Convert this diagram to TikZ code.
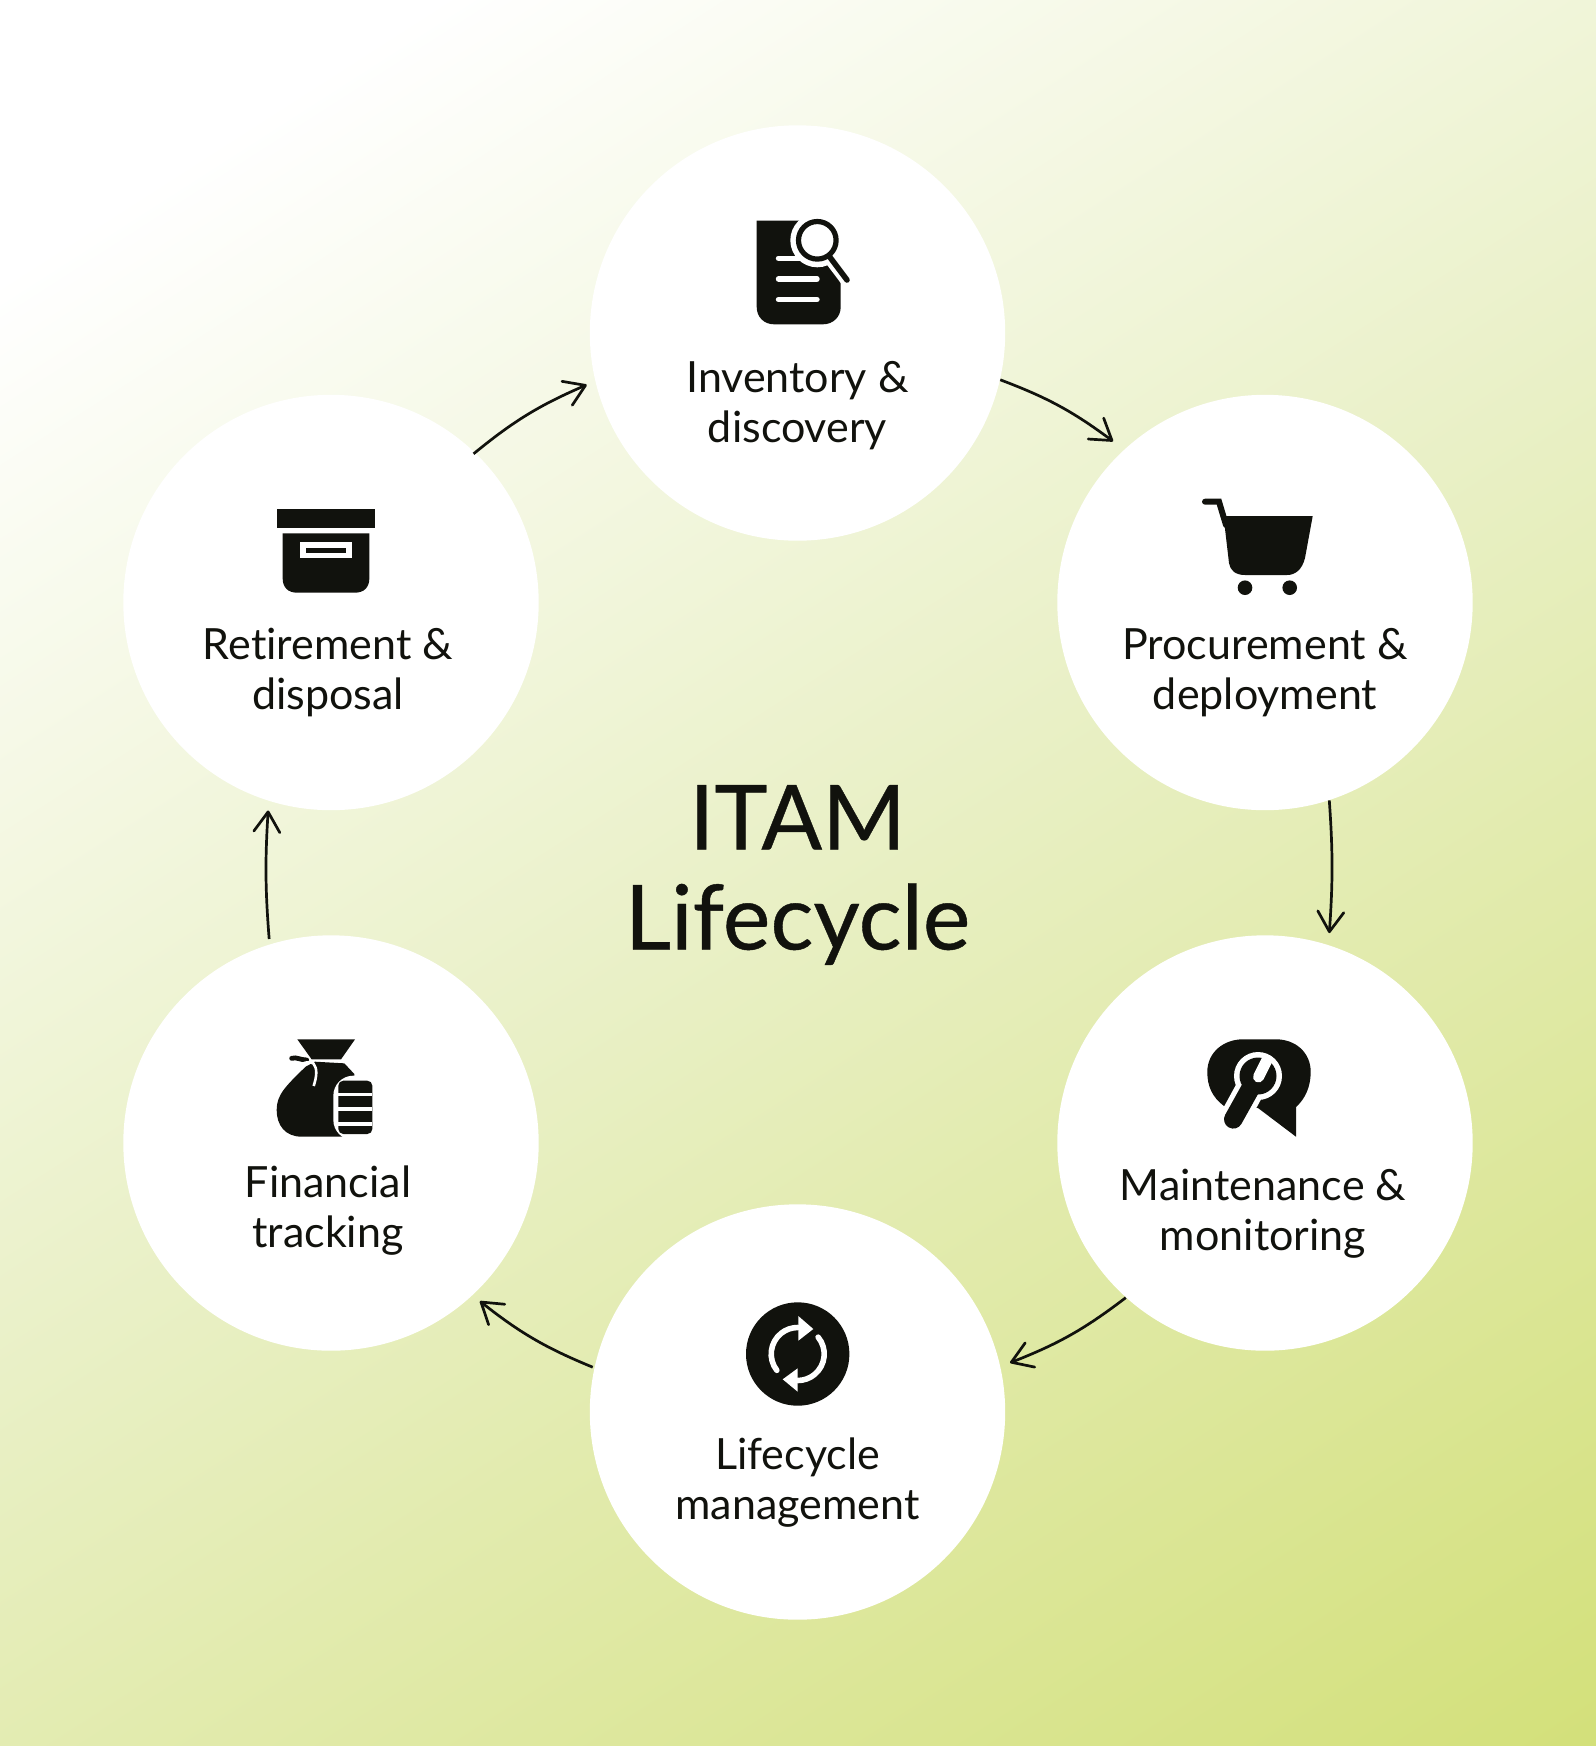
\documentclass[tikz,border=0pt]{standalone}
\usepackage{fontspec}
\setmainfont{Lato}[Ligatures=NoCommon]
\newfontfamily\titlefont[FakeBold=0.45,Ligatures=NoCommon]{Lato}
\usetikzlibrary{arrows.meta,calc}
\definecolor{ink}{HTML}{11120D}
\definecolor{bgend}{HTML}{D3E07A}
\definecolor{bgmid}{HTML}{E9F0C6}
\pgfdeclareverticalshading{bgshade}{100bp}{color(0bp)=(bgend); color(25bp)=(bgend); color(50bp)=(bgmid); color(70bp)=(white); color(100bp)=(white)}
\tikzset{
  stage/.style={circle,fill=white,minimum size=207.7pt,inner sep=0pt},
  lab/.style={align=center,text=ink,inner sep=0pt,font=\fontsize{21.5}{25}\selectfont},
  conn/.style={draw=ink,line width=1.35pt,-{Straight Barb[length=10pt,width=13pt,line width=1.35pt,round]}},
  blk/.style={fill=ink,draw=none},
  wht/.style={fill=white,draw=none},
}
\begin{document}
\begin{tikzpicture}[x=0.5pt,y=-0.5pt]
\useasboundingbox (0,0) rectangle (1596,1746);
\begin{scope}
  \clip (0,0) rectangle (1596,1746);
  \shade[shading=bgshade,shading angle=32.7] (-366,-291) rectangle (1962,2037);
\end{scope}
% stages
\node[stage] (n1) at (797.5,333) {};
\node[stage] (n2) at (1265,602.5) {};
\node[stage] (n3) at (1265,1143) {};
\node[stage] (n4) at (797.5,1412) {};
\node[stage] (n5) at (331,1143) {};
\node[stage] (n6) at (331,602.5) {};
% labels
\node[lab] (t1) at (797.5,406) {Inventory \&\\discovery};
\node[lab] (t2) at (1265,673) {Procurement \&\\deployment};
\node[lab] (t3) at (1263,1213.5) {Maintenance \&\\monitoring};
\node[lab] (t4) at (797.5,1483) {Lifecycle\\management};
\node[lab] (t5) at (328,1210.5) {Financial\\tracking};
\node[lab] (t6) at (328,672) {Retirement \&\\disposal};
\node[align=center,text=ink,inner sep=0pt,font=\titlefont\fontsize{45}{50}\selectfont] (title) at (797.5,875) {ITAM\\Lifecycle};
% connectors
\draw[conn,bend left=8] (n1.-13) to ($(n2.133)+(-10,-9)$);
\draw[conn,bend left=4] ($(n2.-72.3)$) to ($(n3.72.5)+(0,-12)$);
\draw[conn,bend left=8] (n3.228) to ($(n4.12.6)+(9,-6)$);
\draw[conn,bend left=8] ($(n4.167.5)+(-2,2)$) to ($(n5.-47)+(7,6)$);
\draw[conn,bend left=4] ($(n5.107.5)+(-1,-5)$) to ($(n6.-107.2)+(-2,9)$);
\draw[conn,bend left=8] ($(n6.46.9)+(-2,1)$) to ($(n1.193.3)+(-8,5)$);
% icon: document with magnifier
\fill[blk] (756.7,220.7) -- (817,220.7) -- (817,240) -- (840.7,283) -- (840.7,307) .. controls (840.7,317) and (833,324.3) .. (823,324.3) -- (774,324.3) .. controls (764,324.3) and (756.7,317) .. (756.7,307) -- cycle;
\fill[wht] (817.3,240.3) circle[radius=27];
\draw[white,line width=7pt] (817.3,240.3) -- (851,285);
\fill[wht] (843,220) -- (860,220) -- (860,285) -- (843,270) -- cycle;
\draw[white,line width=2.7pt,line cap=round] (778.5,258.3) -- (800,258.3);
\draw[white,line width=2.7pt,line cap=round] (778.5,279) -- (817,279);
\draw[white,line width=2.7pt,line cap=round] (778.5,299.5) -- (817,299.5);
\draw[ink,line width=2.6pt] (817.3,240.3) circle[radius=18.8];
\draw[ink,line width=2.8pt,line cap=round] (829,256) -- (847,280);
% icon: cart
\fill[blk] (1223.5,516) -- (1312.7,516) -- (1305,558) .. controls (1302,570) and (1295,575) .. (1287,575) -- (1245,575) .. controls (1235,575) and (1230,570) .. (1229,563) -- cycle;
\draw[ink,line width=3pt,line cap=round] (1205,501.7) -- (1219,501.7) -- (1226,525);
\fill[blk] (1245,587.7) circle[radius=7.3];
\fill[blk] (1289.7,587.7) circle[radius=7.3];
% icon: wrench bubble
\fill[blk] (1224,1106) .. controls (1212,1097) and (1207.3,1086) .. (1207.3,1072) .. controls (1207.3,1052) and (1224,1039.3) .. (1243,1039.3) -- (1276,1039.3) .. controls (1295,1039.3) and (1310.7,1052) .. (1310.7,1072) .. controls (1310.7,1087) and (1305,1099) .. (1296,1107) -- (1296,1136.7) -- (1258,1108) -- cycle;
\fill[wht] (1258,1076) circle[radius=24];
\draw[white,line width=14.5pt] (1250,1089.3) -- (1225,1135);
\fill[blk] (1258,1076) circle[radius=18.5];
\draw[ink,line width=9.3pt,line cap=round] (1250,1089.3) -- (1233.3,1119.3);
\draw[white,line width=5.5pt,line cap=round] (1258.5,1077) -- (1267,1060);
% icon: sync
\fill[blk] (797.7,1354) circle[radius=51.7];
\draw[white,line width=2.8pt,line cap=round] (797.7,1354) ++(142:26.5) arc (142:270:26.5);
\draw[white,line width=2.8pt,line cap=round] (797.7,1354) ++(-39.5:26.5) arc (-39.5:90:26.5);
\fill[wht] (798.3,1316) -- (813.3,1329) -- (798.3,1340.7) -- cycle;
\fill[wht] (797.7,1368.3) -- (782.7,1379.3) -- (797.7,1391.7) -- cycle;
% icon: money bag
\begin{scope}[shift={(265,1030)},x=0.16667pt,y=-0.16667pt]
\fill[blk] (97,28) -- (270,28) -- (228,88) -- (140,88) -- cycle;
\fill[blk] (150,95) -- (238,100) -- (268,132) -- (268,320) -- (110,320) .. controls (60,320) and (35,285) .. (35,240) .. controls (35,195) and (60,170) .. (122,110) -- cycle;
\draw[ink,line width=2.4pt,line cap=round] (80,85) .. controls (95,80) and (105,90) .. (125,90);
\draw[white,line width=1.3pt] (100,103) .. controls (115,103) and (130,90) .. (145,100) .. controls (158,115) and (155,140) .. (146,168);
\fill[wht,rounded corners=10pt] (205,137) rectangle (337,330);
\fill[blk,rounded corners=2.5pt] (220,152) rectangle (322,312);
\fill[wht] (220,188) rectangle (322,198);
\fill[wht] (220,232) rectangle (322,243);
\fill[wht] (220,277) rectangle (322,288);
\end{scope}
% icon: archive box
\begin{scope}[shift={(265,500)},x=0.16667pt,y=-0.16667pt]
\fill[blk] (37,27) rectangle (330,84);
\fill[blk] (53,100) -- (313,100) -- (313,235) .. controls (313,262) and (297,278) .. (270,278) -- (96,278) .. controls (69,278) and (53,262) .. (53,235) -- cycle;
\fill[wht] (106,127) rectangle (260,174);
\fill[blk] (122,143) rectangle (244,158);
\end{scope}
\end{tikzpicture}
\end{document}
